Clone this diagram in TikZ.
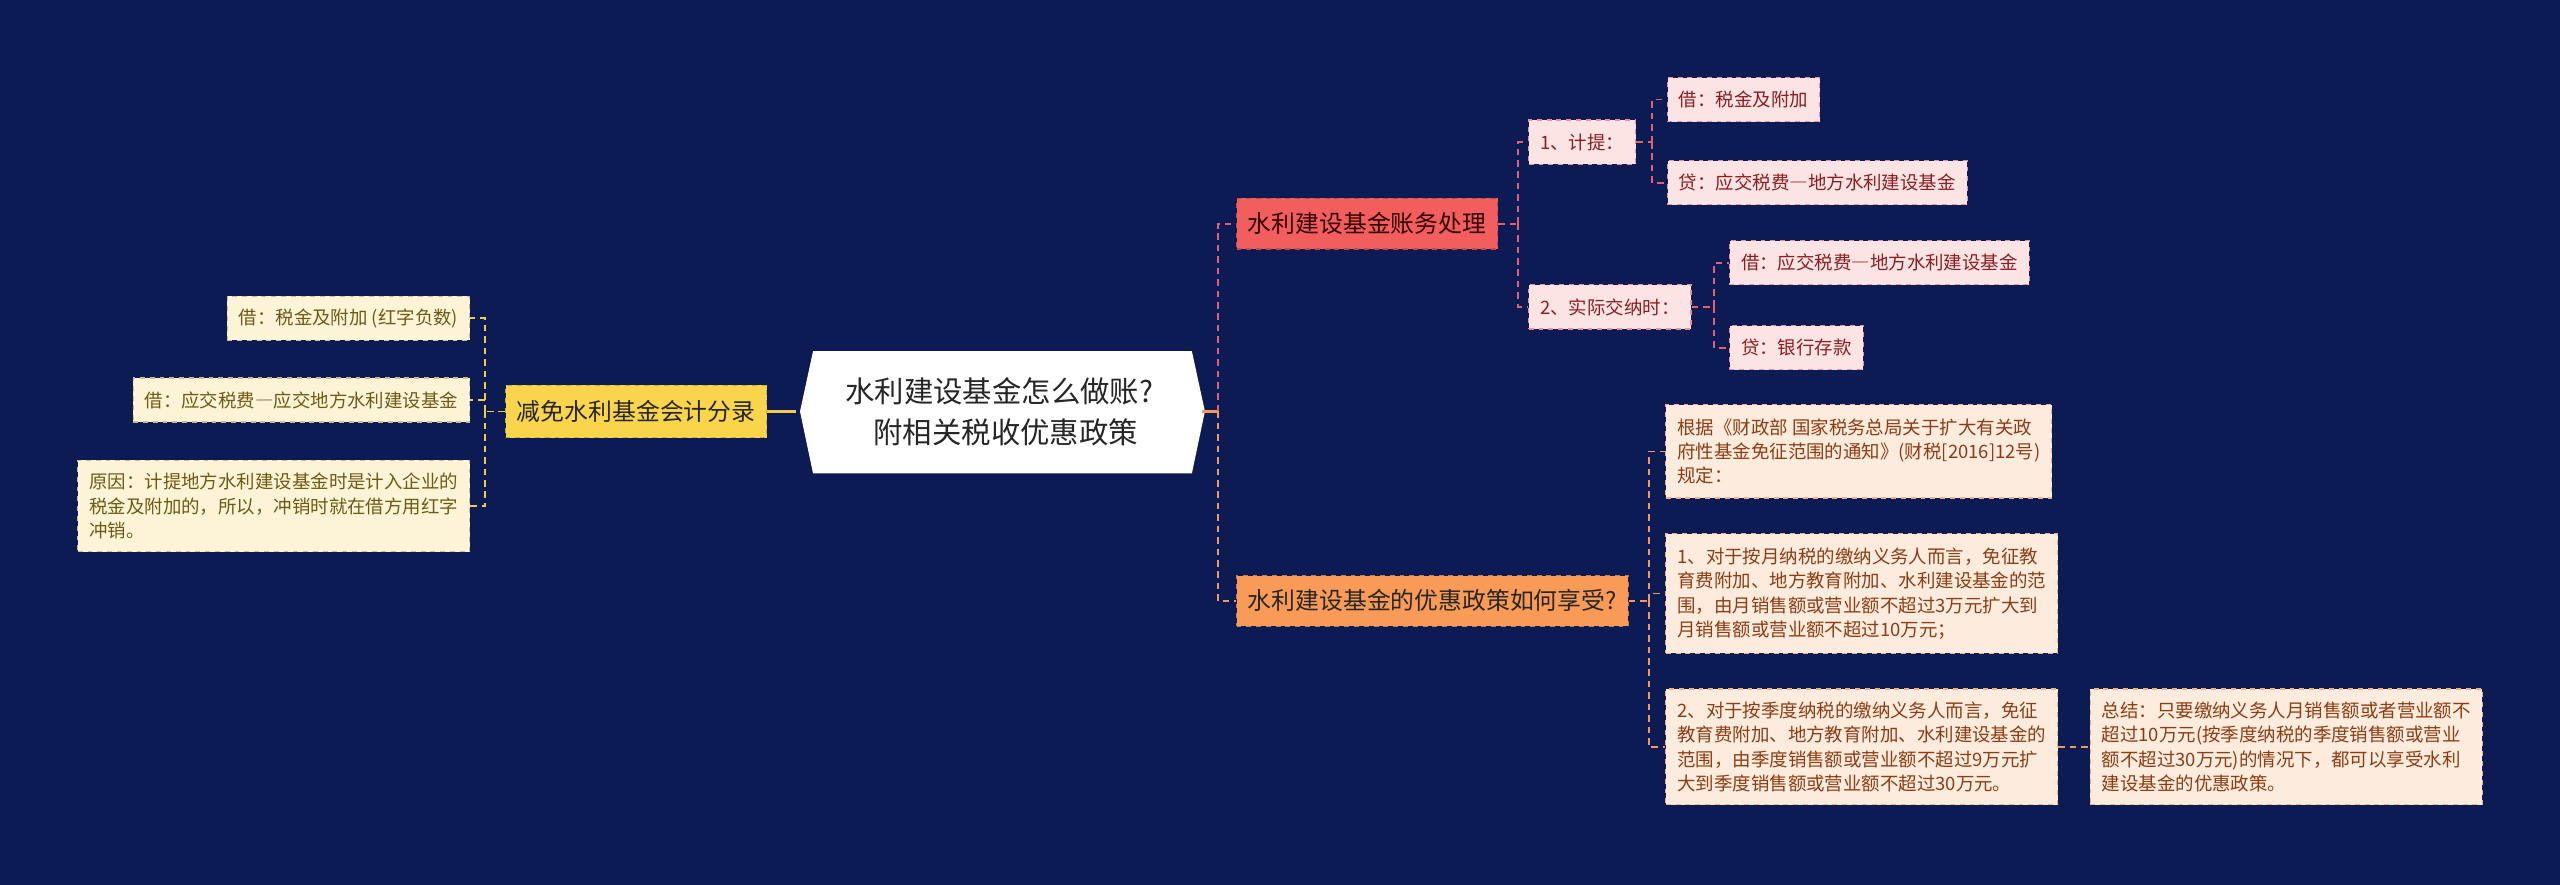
\documentclass[tikz,border=0pt]{standalone}
\usepackage{fontspec}
\setmainfont{Noto Sans CJK SC}
\usetikzlibrary{calc}
\newcommand\fwdash{{\addfontfeatures{RawFeature=+fwid}—}}
\definecolor{bg}{HTML}{0C1B54}
\definecolor{yfill}{HTML}{FAD54C}
\definecolor{rfill}{HTML}{F25E5D}
\definecolor{ofill}{HTML}{F99B56}
\definecolor{lyfill}{HTML}{FDF4D8}
\definecolor{lrfill}{HTML}{FDE4E4}
\definecolor{lofill}{HTML}{FDEBDE}
\definecolor{ytext}{HTML}{6E5A12}
\definecolor{rtext}{HTML}{8A1E22}
\definecolor{otext}{HTML}{8C3E12}
\definecolor{yline}{HTML}{F3CB4B}
\definecolor{rline}{HTML}{E65F6C}
\definecolor{oline}{HTML}{F29A5B}
\tikzset{
  x=1pt, y=-1pt,
  box/.style={rectangle, dashed, line width=0.7pt, inner xsep=7pt, inner ysep=0pt, minimum height=27pt, align=left},
  leaffont/.style={font=\fontsize{11.3}{15}\selectfont},
  lvone/.style={box, minimum height=31pt, font=\fontsize{14.6}{18}\selectfont, text=black!85},
  leafy/.style={box, leaffont, fill=lyfill, draw=yfill!70!black!60, text=ytext},
  leafr/.style={box, leaffont, fill=lrfill, draw=rline!70, text=rtext},
  leafo/.style={box, leaffont, fill=lofill, draw=oline!80, text=otext},
  yc/.style={draw=yline, line width=1.1pt, dash pattern=on 4pt off 3pt},
  rc/.style={draw=rline, line width=1.1pt, dash pattern=on 4pt off 3pt},
  oc/.style={draw=oline, line width=1.1pt, dash pattern=on 4pt off 3pt},
}
\begin{document}
\begin{tikzpicture}
\fill[bg] (0,0) rectangle (1568,542);
\useasboundingbox (0,0) rectangle (1568,542);

% root
\fill[white] (490,252) -- (498,215) -- (730,215) -- (738,252) -- (730,290) -- (498,290) -- cycle;
\node[minimum width=248pt, minimum height=75pt, inner sep=0pt, align=center, text=black!85,
  font=\fontsize{18}{25}\selectfont] (root) at (612,252) {水利建设基金怎么做账?\\\hspace*{8pt}附相关税收优惠政策};

% left branch
\node[lvone, fill=yfill, draw=yfill!80!black, anchor=east, minimum height=32pt] (yl) at (470,252) {减免水利基金会计分录};
\node[leafy, anchor=east] (l1) at (288,195) {借：税金及附加 (红字负数)};
\node[leafy, anchor=east] (l2) at (288,245) {借：应交税费\fwdash 应交地方水利建设基金};
\node[leafy, anchor=east, minimum height=56pt] (l3) at (288,310) {原因：计提地方水利建设基金时是计入企业的\\税金及附加的，所以，冲销时就在借方用红字\\冲销。};

\draw[draw=yline, line width=1.6pt] (root.west) -- (yl.east);
\coordinate (lt) at (297,252);
\draw[yc] (yl.west) -- (lt);
\draw[yc] (lt) |- (l1.east);
\draw[yc] (lt) |- (l2.east);
\draw[yc] (lt) |- (l3.east);

% right branch
\node[lvone, fill=rfill, draw=rfill!80!black, anchor=west, text=black!80!red] (rn) at (757,137) {水利建设基金账务处理};
\node[lvone, fill=ofill, draw=ofill!80!black, anchor=west] (on) at (757,368) {水利建设基金的优惠政策如何享受?};

\coordinate (rt) at (746,252);
\draw[draw=oline, line width=1.6pt] (root.east) -- (rt);
\draw[rc] (rt) |- (rn.west);
\draw[oc] (rt) |- (on.west);

% red children
\node[leafr, anchor=west] (c1) at (936,87) {1、计提：};
\node[leafr, anchor=west] (c2) at (936,188) {2、实际交纳时：};
\coordinate (rt2) at (930,137);
\draw[rc] (rn.east) -- (rt2);
\draw[rc] (rt2) |- (c1.west);
\draw[rc] (rt2) |- (c2.west);

\node[leafr, anchor=west] (c11) at (1021,61) {借：税金及附加};
\node[leafr, anchor=west] (c12) at (1021,112) {贷：应交税费\fwdash 地方水利建设基金};
\coordinate (rt3) at (1012,87);
\draw[rc] (c1.east) -- (rt3);
\draw[rc] (rt3) |- (c11.west);
\draw[rc] (rt3) |- (c12.west);

\node[leafr, anchor=west] (c21) at (1059,161) {借：应交税费\fwdash 地方水利建设基金};
\node[leafr, anchor=west] (c22) at (1059,213) {贷：银行存款};
\coordinate (rt4) at (1050,188);
\draw[rc] (c2.east) -- (rt4);
\draw[rc] (rt4) |- (c21.west);
\draw[rc] (rt4) |- (c22.west);

% orange children
\node[leafo, anchor=west, minimum height=57pt] (oa) at (1020,276.5) {根据《财政部 国家税务总局关于扩大有关政\\府性基金免征范围的通知》(财税[2016]12号)\\规定：};
\node[leafo, anchor=west, minimum height=73pt] (ob) at (1020,363.5) {1、对于按月纳税的缴纳义务人而言，免征教\\育费附加、地方教育附加、水利建设基金的范\\围，由月销售额或营业额不超过3万元扩大到\\月销售额或营业额不超过10万元；};
\node[leafo, anchor=west, minimum height=71pt] (oc) at (1020,457.5) {2、对于按季度纳税的缴纳义务人而言，免征\\教育费附加、地方教育附加、水利建设基金的\\范围，由季度销售额或营业额不超过9万元扩\\大到季度销售额或营业额不超过30万元。};
\node[leafo, anchor=west, minimum height=71pt] (od) at (1280,457.5) {总结：只要缴纳义务人月销售额或者营业额不\\超过10万元(按季度纳税的季度销售额或营业\\额不超过30万元)的情况下，都可以享受水利\\建设基金的优惠政策。};
\coordinate (ot) at (1010,368);
\draw[oc] (on.east) -- (ot);
\draw[oc] (ot) |- (oa.west);
\draw[oc] (ot) |- (ob.west);
\draw[oc] (ot) |- (oc.west);
\draw[oc] (oc.east) -- (od.west);
\end{tikzpicture}
\end{document}
